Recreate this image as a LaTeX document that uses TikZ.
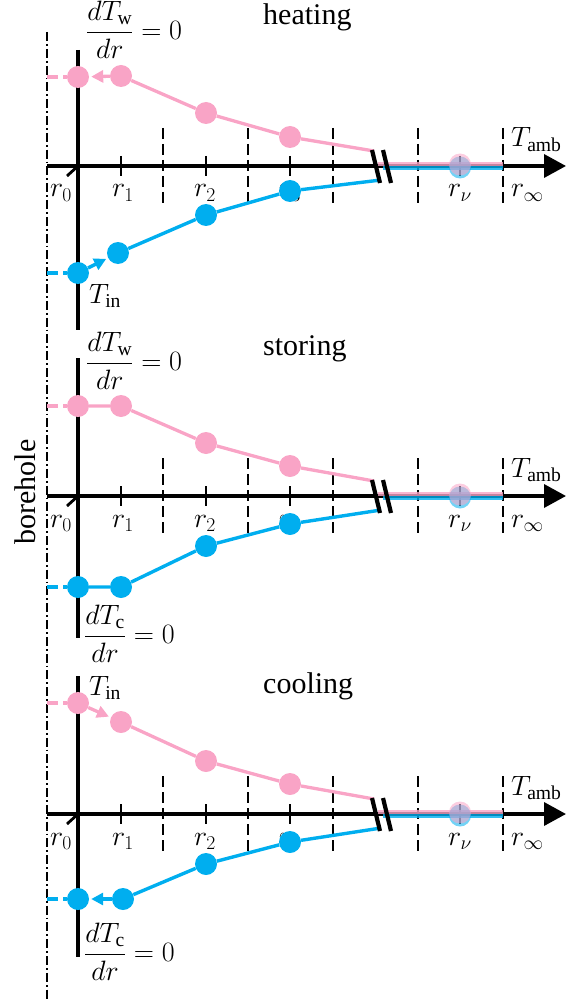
\RequirePackage{fix-cm}
\documentclass[tikz,border=0pt]{standalone}
\usepackage{amsmath}
\usepackage{fontspec}
\setmainfont{Liberation Serif}
\usetikzlibrary{arrows.meta}
\definecolor{pinkc}{RGB}{249,164,198}
\definecolor{bluec}{RGB}{0,174,239}
\tikzset{
  dotn/.style={circle, inner sep=0pt, minimum size=22pt},
  pdot/.style={dotn, fill=pinkc},
  bdot/.style={dotn, fill=bluec},
  axisln/.style={line width=3.6pt},
  cellln/.style={line width=1.8pt, dash pattern=on 11pt off 5pt},
  tickln/.style={line width=2.8pt},
  pline/.style={pinkc, line width=3.3pt},
  bline/.style={bluec, line width=3.4pt},
  pdash/.style={pline, dash pattern=on 11pt off 5pt},
  bdash/.style={bline, dash pattern=on 11pt off 5pt},
  flowarrow/.style={-{Triangle[length=12pt,width=12pt]}, shorten >=2pt},
  lbl/.style={inner sep=0pt, font=\fontsize{28}{32}\selectfont},
  ttl/.style={inner sep=0pt, font=\fontsize{30}{36}\selectfont, anchor=base west},
  brk/.style={line width=4.2pt},
  ddash/.style={line width=1.8pt, dash pattern=on 9pt off 3pt on 1.8pt off 3pt},
}
% #1 prefix, #2 axis y, #3 vertical top, #4 vertical bottom
\newcommand\axesset[4]{%
  \draw[axisln] (78,#3) -- (78,#4);
  \coordinate (#1L) at (47,#2);
  \coordinate (#1R) at (566,#2);
  \draw[axisln, -{Triangle[length=22pt,width=23pt]}] (#1L) -- (#1R);
  \foreach \x in {163,248,333,418,503} \draw[cellln] (\x,{#2-38}) -- (\x,{#2+37});
  \foreach \x in {121,206,290,460} \draw[tickln] (\x,{#2-10}) -- (\x,{#2+10});
  \draw[tickln] (78,#2) -- (67,{#2+10});
  \node[lbl, anchor=base] (#1r0) at (61,{#2+31}) {$r_0$};
  \node[lbl, anchor=base] (#1r1) at (123,{#2+31}) {$r_1$};
  \node[lbl, anchor=base] (#1r2) at (205,{#2+31}) {$r_2$};
  \node[lbl, anchor=base] (#1r3) at (290,{#2+31}) {$r_3$};
  \node[lbl, anchor=base] (#1rv) at (460,{#2+31}) {$r_\nu$};
  \node[lbl, anchor=base west] (#1ri) at (511,{#2+31}) {$r_\infty$};
  \node[lbl, anchor=base west] (#1Ta) at (511,{#2-19}) {$T_{\mathrm{amb}}$};
  \coordinate (#1Pe) at (374,{#2-15});
  \coordinate (#1Be) at (381,{#2+14});
}
% #1 prefix, #2 axis y
\newcommand\farfield[2]{%
  \coordinate (#1ph1) at (378,{#2-2});
  \coordinate (#1ph2) at (503,{#2-2});
  \coordinate (#1bh1) at (383,{#2+2});
  \coordinate (#1bh2) at (503,{#2+2});
  \draw[bline, opacity=0.8] (#1bh1) -- (#1bh2);
  \draw[pline, opacity=0.8] (#1ph1) -- (#1ph2);
  \coordinate (#1k1a) at (372,{#2-16});
  \coordinate (#1k1b) at (380,{#2+17});
  \coordinate (#1k2a) at (383,{#2-16});
  \coordinate (#1k2b) at (391,{#2+17});
  \draw[brk] (#1k1a) -- (#1k1b);
  \draw[brk] (#1k2a) -- (#1k2b);
  \node[bdot, opacity=0.55] (#1Bv) at (460,{#2+1.5}) {};
  \node[pdot, opacity=0.55] (#1Pv) at (460,{#2-1.5}) {};
}
\begin{document}
\begin{tikzpicture}[x=1pt, y=-1pt]
\useasboundingbox (0,0) rectangle (587,1000);
% borehole centre line
\coordinate (ddT) at (47,32);
\coordinate (ddB) at (47,1000);
\draw[ddash] (ddT) -- (ddB);
\node[rotate=90, inner sep=0pt, font=\fontsize{30}{36}\selectfont] (bh) at (25,492) {borehole};

% ---------------- heating ----------------
\axesset{a}{166}{50}{330}
\node[ttl] (aT) at (263,25) {heating};
\node[lbl, anchor=west] (aFw) at (86,30) {$\dfrac{dT_{\mathrm{w}}}{dr}=0$};
\node[lbl, anchor=base west] (aTin) at (89,303) {$T_{\mathrm{in}}$};
\coordinate (aPs) at (47,77);
\coordinate (aBs) at (47,273);
\node[pdot] (aP0) at (78,77) {};
\node[pdot] (aP1) at (121,76) {};
\node[pdot] (aP2) at (206,113) {};
\node[pdot] (aP3) at (290,137) {};
\node[bdot] (aB0) at (78,273) {};
\node[bdot] (aB1) at (118,253) {};
\node[bdot] (aB2) at (206,215) {};
\node[bdot] (aB3) at (290,191) {};
\draw[pdash] (aPs) -- (aP0);
\draw[bdash] (aBs) -- (aB0);
\draw[pline, flowarrow] (aP1) -- (aP0);
\draw[bline, flowarrow] (aB0) -- (aB1);
\draw[pline] (aP1) -- (aP2) -- (aP3) -- (aPe);
\draw[bline] (aB1) -- (aB2) -- (aB3) -- (aBe);
\farfield{a}{166}

% ---------------- storing ----------------
\axesset{b}{496}{358}{638}
\node[ttl] (bT) at (263,355) {storing};
\node[lbl, anchor=west] (bFw) at (86,361) {$\dfrac{dT_{\mathrm{w}}}{dr}=0$};
\node[lbl, anchor=west] (bFc) at (84,634) {$\dfrac{dT_{\mathrm{c}}}{dr}=0$};
\coordinate (bPs) at (47,406);
\coordinate (bBs) at (47,587);
\node[pdot] (bP0) at (78,406) {};
\node[pdot] (bP1) at (121,406) {};
\node[pdot] (bP2) at (206,443) {};
\node[pdot] (bP3) at (290,466) {};
\node[bdot] (bB0) at (78,587) {};
\node[bdot] (bB1) at (121,587) {};
\node[bdot] (bB2) at (206,546) {};
\node[bdot] (bB3) at (290,524) {};
\draw[pdash] (bPs) -- (bP0);
\draw[bdash] (bBs) -- (bB0);
\draw[pline] (bP0) -- (bP1) -- (bP2) -- (bP3) -- (bPe);
\draw[bline] (bB0) -- (bB1) -- (bB2) -- (bB3) -- (bBe);
\farfield{b}{496}

% ---------------- cooling ----------------
\axesset{c}{814}{676}{957}
\node[ttl] (cT) at (263,693) {cooling};
\node[lbl, anchor=base west] (cTin) at (89,695) {$T_{\mathrm{in}}$};
\node[lbl, anchor=west] (cFc) at (84,952) {$\dfrac{dT_{\mathrm{c}}}{dr}=0$};
\coordinate (cPs) at (47,703);
\coordinate (cBs) at (47,899);
\node[pdot] (cP0) at (78,703) {};
\node[pdot] (cP1) at (121,722) {};
\node[pdot] (cP2) at (206,761) {};
\node[pdot] (cP3) at (290,784) {};
\node[bdot] (cB0) at (78,899) {};
\node[bdot] (cB1) at (123,899) {};
\node[bdot] (cB2) at (206,864) {};
\node[bdot] (cB3) at (290,842) {};
\draw[pdash] (cPs) -- (cP0);
\draw[bdash] (cBs) -- (cB0);
\draw[pline, flowarrow] (cP0) -- (cP1);
\draw[bline, flowarrow] (cB1) -- (cB0);
\draw[pline] (cP1) -- (cP2) -- (cP3) -- (cPe);
\draw[bline] (cB1) -- (cB2) -- (cB3) -- (cBe);
\farfield{c}{814}
\end{tikzpicture}
\end{document}
